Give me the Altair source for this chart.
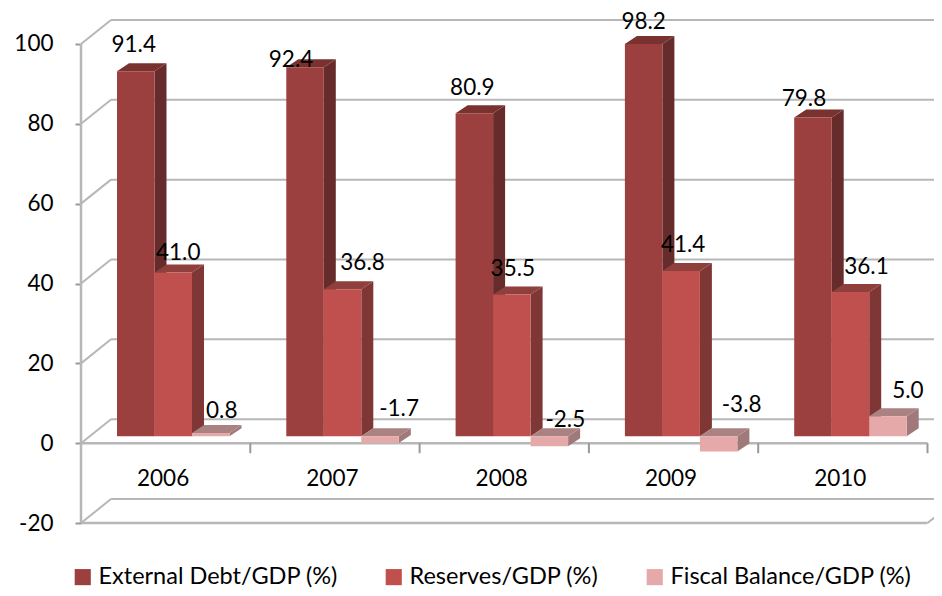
import altair as alt
import pandas as pd

years = ["2006", "2007", "2008", "2009", "2010"]
series = ["External Debt/GDP (%)", "Reserves/GDP (%)", "Fiscal Balance/GDP (%)"]
debt = [91.4, 92.4, 80.9, 98.2, 79.8]
reserves = [41.0, 36.8, 35.5, 41.4, 36.1]
fiscal = [0.8, -1.7, -2.5, -3.8, 5.0]
labels = [
    ["91.4", "92.4", "80.9", "98.2", "79.8"],
    ["41.0", "36.8", "35.5", "41.4", "36.1"],
    ["0.8", "-1.7", "-2.5", "-3.8", "5.0"],
]
y_ticks = [-20, 0, 20, 40, 60, 80, 100]

# Styling / layout (px-derived constants)
front = ["#9c403f", "#c0504d", "#e5a9a9"]
side = ["#662c2b", "#7f3735", "#a07a7a"]
top_c = ["#7a3231", "#8f3f3c", "#ab8282"]
GRID = "#b7b7b7"
FONT = "Lato"
FS = 22.5
CAT = 169.3
UNIT = 3.99
W, H = 853, 555
X_DOM = [0, W / CAT]
Y_DOM = [-30, 109]
wall_dx, wall_dy = 30 / CAT, 24 / UNIT
bar_start, bar_w = 36 / CAT, 37.5 / CAT
bar_dx, bar_dy = 12 / CAT, 8 / UNIT
base = 7 / UNIT
label_nudge = [
    [(-2, -26), (-14, -7), (-2, -25), (0, -22), (-9, -19)],
    [(5, -19), (20, -26), (1, -25), (2, -26), (16, -25)],
    [(11, -22), (19, -27), (16, -16), (23, -31), (20, -25)],
]

sx = alt.Scale(domain=X_DOM, nice=False, zero=False)
sy = alt.Scale(domain=Y_DOM, nice=False, zero=False)
y_axis = alt.Axis(
    values=y_ticks,
    title=None,
    grid=False,
    domain=False,
    tickColor="#999999",
    tickWidth=2,
    tickSize=6,
    labelPadding=22,
    labelFont=FONT,
    labelFontSize=FS,
    labelColor="black",
    labelFlush=False,
    labelOverlap=False,
    labelExpr="toString(datum.value)",
)
X = lambda f="x": alt.X(f"{f}:Q", scale=sx, axis=None)
Y = lambda f="y": alt.Y(f"{f}:Q", scale=sy, axis=y_axis)

layers = []

# Back wall gridlines
back = pd.DataFrame({"y": [v + wall_dy for v in y_ticks], "x": wall_dx, "x2": X_DOM[1]})
layers.append(
    alt.Chart(back).mark_rule(color=GRID, size=2, clip=True).encode(
        x=X(), x2="x2:Q", y=Y()
    )
)

# Diagonals on the left wall and lower-right corner
diag = []
for v in y_ticks:
    diag += [{"id": f"l{v}", "x": 0, "y": v}, {"id": f"l{v}", "x": wall_dx, "y": v + wall_dy}]
diag += [{"id": "r", "x": 5, "y": -20}, {"id": "r", "x": 5 + wall_dx, "y": -20 + wall_dy}]
layers.append(
    alt.Chart(pd.DataFrame(diag)).mark_line(color=GRID, strokeWidth=2, clip=True).encode(
        x=X(), y=Y(), detail="id:N"
    )
)

# Front floor edges
edges = pd.DataFrame({"y": [0, -20], "x": 0, "x2": 5})
layers.append(
    alt.Chart(edges).mark_rule(color=GRID, size=2.5).encode(x=X(), x2="x2:Q", y=Y())
)

# Category ticks
ticks = pd.DataFrame({"x": list(range(6)), "y": 0, "y2": -10 / UNIT})
layers.append(
    alt.Chart(ticks).mark_rule(color="#999999", size=2).encode(x=X(), y=Y(), y2="y2:Q")
)

# Value axis line
axis_line = pd.DataFrame({"x": [0], "y": [y_ticks[0]], "y2": [y_ticks[-1]]})
layers.append(
    alt.Chart(axis_line).mark_rule(color=GRID, size=2.5).encode(x=X(), y=Y(), y2="y2:Q")
)

# 3D bars, drawn series by series so each hides the side of the one before
for s, vals in enumerate([debt, reserves, fiscal]):
    sides, tops, fronts = [], [], []
    for i, v in enumerate(vals):
        x0 = i + bar_start + s * bar_w
        t = max(v, 0) + base
        b = min(v, 0) + base
        bid = f"{s}-{i}"
        sides += [
            {"id": bid, "x": x0 + bar_w, "y": b, "y2": t},
            {"id": bid, "x": x0 + bar_w + bar_dx, "y": b + bar_dy, "y2": t + bar_dy},
        ]
        tops += [
            {"id": bid, "y": t, "x": x0, "x2": x0 + bar_w},
            {"id": bid, "y": t + bar_dy, "x": x0 + bar_dx, "x2": x0 + bar_w + bar_dx},
        ]
        fronts.append({"series": series[s], "x": x0, "x2": x0 + bar_w, "y": b, "y2": t})
    layers.append(
        alt.Chart(pd.DataFrame(sides)).mark_area(orient="vertical", color=side[s], opacity=1).encode(
            x=X(), y=Y(), y2="y2:Q", detail="id:N"
        )
    )
    layers.append(
        alt.Chart(pd.DataFrame(tops)).mark_area(orient="horizontal", color=top_c[s], opacity=1).encode(
            y=Y(), x=X(), x2="x2:Q", detail="id:N"
        )
    )
    layers.append(
        alt.Chart(pd.DataFrame(fronts)).mark_rect().encode(
            x=X(),
            x2="x2:Q",
            y=Y(),
            y2="y2:Q",
            color=alt.Color(
                "series:N",
                scale=alt.Scale(domain=series, range=front),
                legend=alt.Legend(
                    title=None,
                    orient="none",
                    direction="horizontal",
                    columns=3,
                    legendX=-10,
                    legendY=557,
                    symbolType="square",
                    symbolSize=260,
                    symbolStrokeWidth=0,
                    labelFont=FONT,
                    labelFontSize=23.5,
                    labelColor="black",
                    labelLimit=400,
                    columnPadding=44,
                ),
            ),
        )
    )

# Category labels
cats = pd.DataFrame({"x": [i + 0.485 for i in range(5)], "y": -9.0, "t": years})
layers.append(
    alt.Chart(cats).mark_text(font=FONT, fontSize=FS, color="black", baseline="middle").encode(
        x=X(), y=Y(), text="t:N"
    )
)

# Value labels, anchored to the top of each bar and nudged clear of it
rows = []
for s, vals in enumerate([debt, reserves, fiscal]):
    for i, v in enumerate(vals):
        nx, ny = label_nudge[s][i]
        rows.append(
            {
                "x": i + bar_start + (s + 0.5) * bar_w + nx / CAT,
                "y": max(v, 0) + base - ny / UNIT,
                "t": labels[s][i],
            }
        )
layers.append(
    alt.Chart(pd.DataFrame(rows)).mark_text(font=FONT, fontSize=FS, color="black", baseline="middle").encode(
        x=X(), y=Y(), text="t:N"
    )
)

chart = (
    alt.layer(*layers)
    .properties(
        width=W,
        height=H,
        autosize=alt.AutoSizeParams(type="none"),
        padding={"left": 73, "top": 0, "right": 0, "bottom": 25},
        background="white",
    )
    .configure_view(stroke=None)
)
chart.save("out.html", embed_options={"renderer": "svg", "actions": False})
